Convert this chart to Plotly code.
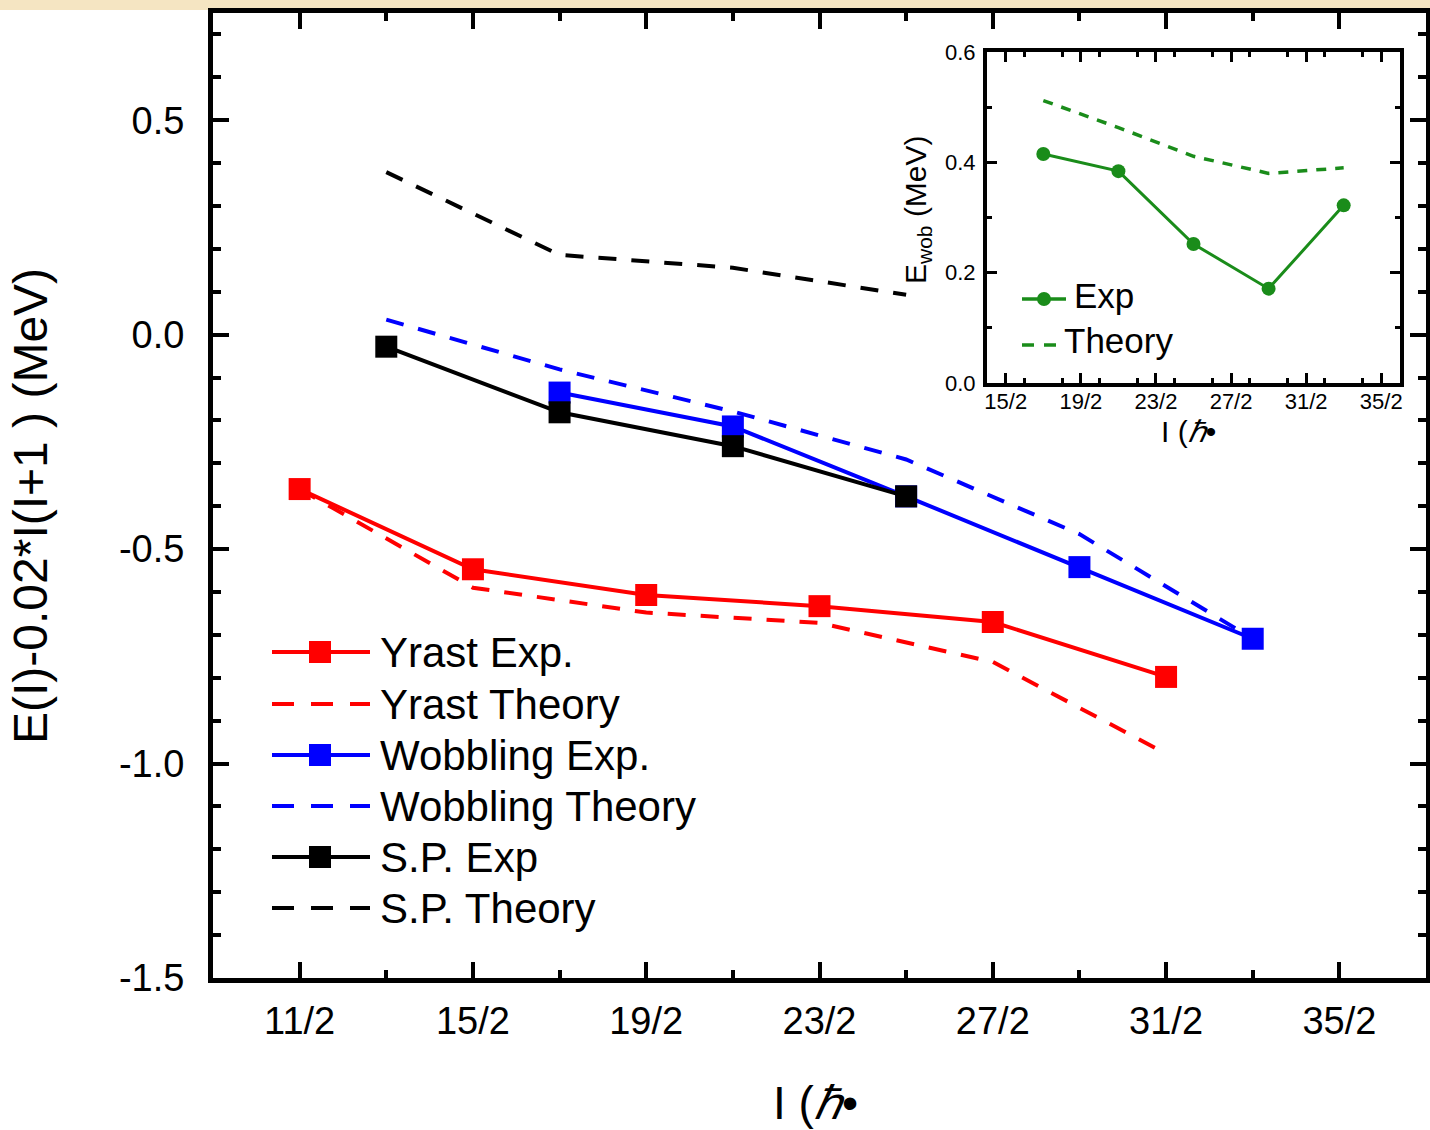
import plotly.graph_objects as go

# ---- main panel data: E(I) - 0.02*I(I+1) in MeV ----
spin_yrast = [5.5, 7.5, 9.5, 11.5, 13.5, 15.5]
yrast_exp = [-0.360, -0.547, -0.607, -0.633, -0.670, -0.798]
yrast_theory = [-0.360, -0.590, -0.648, -0.672, -0.763, -0.977]

spin_wob_exp = [8.5, 10.5, 12.5, 14.5, 16.5]
wobbling_exp = [-0.135, -0.214, -0.377, -0.542, -0.709]
spin_wob_th = [6.5, 8.5, 10.5, 12.5, 14.5, 16.5]
wobbling_theory = [0.035, -0.081, -0.179, -0.291, -0.465, -0.709]

spin_sp = [6.5, 8.5, 10.5, 12.5]
sp_exp = [-0.028, -0.181, -0.260, -0.377]
sp_theory = [0.379, 0.186, 0.156, 0.093]

# ---- inset data: wobbling energy ----
spin_inset = [8.5, 10.5, 12.5, 14.5, 16.5]
ewob_exp = [0.415, 0.384, 0.252, 0.171, 0.322]
ewob_theory = [0.512, 0.463, 0.411, 0.380, 0.390]

main_tickvals = [5.5, 7.5, 9.5, 11.5, 13.5, 15.5, 17.5]
main_ticktext = ["11/2", "15/2", "19/2", "23/2", "27/2", "31/2", "35/2"]
main_yvals = [0.5, 0.0, -0.5, -1.0, -1.5]
main_ytext = ["0.5", "0.0", "-0.5", "-1.0", "-1.5"]
inset_tickvals = [7.5, 9.5, 11.5, 13.5, 15.5, 17.5]
inset_ticktext = ["15/2", "19/2", "23/2", "27/2", "31/2", "35/2"]
inset_yvals = [0.0, 0.2, 0.4, 0.6]
inset_ytext = ["0.0", "0.2", "0.4", "0.6"]

RED, BLUE, BLACK, GREEN = "#ff0000", "#0000ff", "#000000", "#1a8c1a"
FONT = "Liberation Sans, Arial, sans-serif"
W, H = 1430, 1130


def px(x):
    return x / W


def py(y):
    return 1 - y / H


fig = go.Figure()

main_dash = "18px,15px"


def main_line(x, y, color, dashed, name, marker):
    fig.add_trace(go.Scatter(
        x=x, y=y, name=name, mode="lines+markers" if marker else "lines",
        line=dict(color=color, width=4, dash=main_dash if dashed else "solid"),
        marker=dict(symbol="square", size=22, color=color) if marker else None,
        xaxis="x", yaxis="y", showlegend=False))


main_line(spin_yrast, yrast_theory, RED, True, "Yrast Theory", False)
main_line(spin_wob_th, wobbling_theory, BLUE, True, "Wobbling Theory", False)
main_line(spin_sp, sp_theory, BLACK, True, "S.P. Theory", False)
main_line(spin_yrast, yrast_exp, RED, False, "Yrast Exp.", True)
main_line(spin_wob_exp, wobbling_exp, BLUE, False, "Wobbling Exp.", True)
main_line(spin_sp, sp_exp, BLACK, False, "S.P. Exp", True)

# inset traces
fig.add_trace(go.Scatter(
    x=spin_inset, y=ewob_theory, mode="lines", name="Theory",
    line=dict(color=GREEN, width=3.5, dash="10px,9px"),
    xaxis="x2", yaxis="y2", showlegend=False))
fig.add_trace(go.Scatter(
    x=spin_inset, y=ewob_exp, mode="lines+markers", name="Exp",
    line=dict(color=GREEN, width=3),
    marker=dict(symbol="circle", size=14, color=GREEN),
    xaxis="x2", yaxis="y2", showlegend=False))

shapes = []
annotations = []

# page background band along the top edge
shapes.append(dict(type="rect", xref="paper", yref="paper", x0=0, x1=1,
                   y0=py(10), y1=1, fillcolor="#f5e5c2", line=dict(width=0),
                   layer="below"))

# legend of the main panel
legend_rows = [
    ("Yrast Exp.", RED, False, 652),
    ("Yrast Theory", RED, True, 704),
    ("Wobbling Exp.", BLUE, False, 755),
    ("Wobbling Theory", BLUE, True, 806),
    ("S.P. Exp", BLACK, False, 857),
    ("S.P. Theory", BLACK, True, 908),
]
for label, color, dashed, yy in legend_rows:
    shapes.append(dict(type="line", xref="paper", yref="paper",
                       x0=px(272), x1=px(370), y0=py(yy), y1=py(yy),
                       line=dict(color=color, width=4,
                                 dash="22px,17px" if dashed else "solid")))
    if not dashed:
        shapes.append(dict(type="rect", xref="paper", yref="paper",
                           x0=px(309), x1=px(331), y0=py(yy - 11), y1=py(yy + 11),
                           fillcolor=color, line=dict(width=0)))
    annotations.append(dict(text=label, xref="paper", yref="paper",
                            x=px(378), y=py(yy), xanchor="left", yanchor="middle",
                            showarrow=False, font=dict(size=42, color="black", family=FONT)))

# legend of the inset
shapes.append(dict(type="line", xref="paper", yref="paper",
                   x0=px(1022), x1=px(1066), y0=py(299), y1=py(299),
                   line=dict(color=GREEN, width=3.5)))
shapes.append(dict(type="circle", xref="paper", yref="paper",
                   x0=px(1037), x1=px(1051), y0=py(306), y1=py(292),
                   fillcolor=GREEN, line=dict(width=0)))
shapes.append(dict(type="line", xref="paper", yref="paper",
                   x0=px(1022), x1=px(1058), y0=py(345), y1=py(345),
                   line=dict(color=GREEN, width=3.5, dash="12px,10px")))
annotations.append(dict(text="Exp", xref="paper", yref="paper",
                        x=px(1072), y=py(295), xanchor="left", yanchor="middle",
                        showarrow=False, font=dict(size=35, color="black", family=FONT)))
annotations.append(dict(text="Theory", xref="paper", yref="paper",
                        x=px(1062), y=py(340), xanchor="left", yanchor="middle",
                        showarrow=False, font=dict(size=35, color="black", family=FONT)))

# axis titles
annotations.append(dict(text="E(I)-0.02*I(I+1 ) (MeV)", xref="paper", yref="paper",
                        x=px(30), y=py(506), textangle=-90, showarrow=False,
                        xanchor="center", yanchor="middle",
                        font=dict(size=48, color="black", family=FONT)))
annotations.append(dict(text="I (<i>ℏ</i>•", xref="paper", yref="paper",
                        x=px(815), y=py(1103), showarrow=False,
                        xanchor="center", yanchor="middle",
                        font=dict(size=46, color="black", family=FONT)))
annotations.append(dict(text="E<sub>wob</sub> (MeV)", xref="paper", yref="paper",
                        x=px(917), y=py(210), textangle=-90, showarrow=False,
                        xanchor="center", yanchor="middle",
                        font=dict(size=30, color="black", family=FONT)))
annotations.append(dict(text="I (<i>ℏ</i>•", xref="paper", yref="paper",
                        x=px(1188), y=py(431), showarrow=False,
                        xanchor="center", yanchor="middle",
                        font=dict(size=30, color="black", family=FONT)))

main_axis = dict(showline=True, linecolor="black", linewidth=5, mirror="ticks",
                 ticks="inside", tickcolor="black", tickwidth=4, ticklen=16,
                 showgrid=False, zeroline=False, automargin=False,
                 tickfont=dict(size=38, color="black", family=FONT))
inset_axis = dict(showline=True, linecolor="black", linewidth=4, mirror="ticks",
                  ticks="inside", tickcolor="black", tickwidth=3, ticklen=10,
                  showgrid=False, zeroline=False, automargin=False,
                  tickfont=dict(size=22, color="black", family=FONT))

fig.update_layout(
    width=W, height=H,
    margin=dict(l=0, r=0, t=0, b=0, autoexpand=False),
    paper_bgcolor="white", plot_bgcolor="white",
    showlegend=False,
    xaxis=dict(main_axis, domain=[px(213), px(1426)], range=[4.5, 18.5],
               tickmode="array", tickvals=main_tickvals, ticktext=main_ticktext,
               ticklabelstandoff=5,
               minor=dict(tickmode="linear", tick0=4.5, dtick=1, ticks="inside",
                          ticklen=8, tickwidth=4, tickcolor="black"),
               anchor="y"),
    yaxis=dict(main_axis, domain=[py(978), py(13)], range=[-1.5, 0.75],
               tickmode="array", tickvals=main_yvals, ticktext=main_ytext,
               ticklabelstandoff=16,
               minor=dict(tickmode="linear", tick0=0, dtick=0.1, ticks="inside",
                          ticklen=8, tickwidth=4, tickcolor="black"),
               anchor="x"),
    xaxis2=dict(inset_axis, domain=[px(987), px(1400)], range=[7, 18],
                tickmode="array", tickvals=inset_tickvals, ticktext=inset_ticktext,
                ticklabelstandoff=-4,
                minor=dict(tickmode="linear", tick0=7, dtick=1, ticks="inside",
                           ticklen=5, tickwidth=3, tickcolor="black"),
                anchor="y2"),
    yaxis2=dict(inset_axis, domain=[py(383), py(52)], range=[0, 0.6],
                tickmode="array", tickvals=inset_yvals, ticktext=inset_ytext,
                ticklabelstandoff=3,
                minor=dict(tickmode="linear", tick0=0, dtick=0.1, ticks="inside",
                           ticklen=5, tickwidth=3, tickcolor="black"),
                anchor="x2"),
    shapes=shapes,
    annotations=annotations,
)

# the figure fills the page exactly: drop the default body margin
fig.write_html(
    "out.html",
    post_script="document.body.style.margin='0';document.body.style.overflow='hidden';",
)
